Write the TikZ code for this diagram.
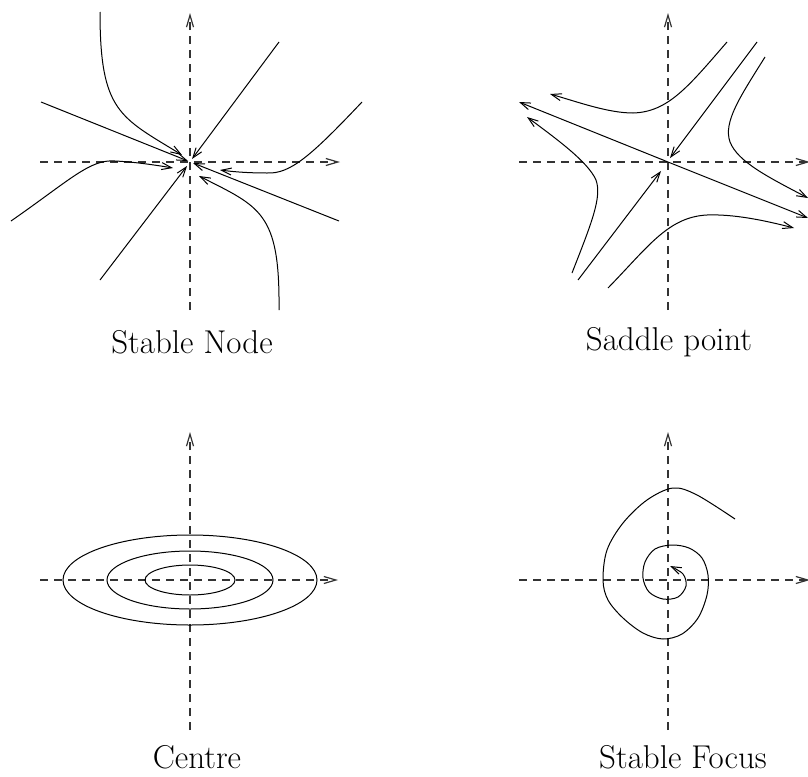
\documentclass[tikz,border=0pt]{standalone}
\usetikzlibrary{arrows.meta}

\begin{document}
\begin{tikzpicture}[
    x=0.5pt, y=-0.5pt,
    axis/.style={
        dashed, dash pattern=on 4pt off 3pt, line width=0.6pt, color=black!80,
        -{Straight Barb[length=6pt, width=3.5pt]}
    },
    traj/.style={
        line width=0.5pt, -{Straight Barb[length=5pt, width=3.5pt]}
    },
    orbit/.style={line width=0.5pt},
    caption/.style={anchor=base, font=\fontsize{16.5}{19}\selectfont}
]
\useasboundingbox (0,0) rectangle (808,776);

% --- stable node ---
\begin{scope}[shift={(190,162)}]
\coordinate (sn) at (0,0);
\draw[axis] (0,148) -- (0,-149);
\draw[axis] (-150,0) -- (150,0);
\draw[traj] (-149,-60) -- (-2,-1);
\draw[traj] (149,59) -- (3,1);
\draw[traj] (-90,118) -- (-3,4);
\draw[traj] (89,-120) -- (2,-3);
\draw[traj] (-90,-150) .. controls (-90,-50) and (-70,-45) .. (-8,-7);
\draw[traj] (89,148) .. controls (90,50) and (70,45) .. (9,14);
\draw[traj] (-179,59) .. controls (-120,18) and (-100,-3) .. (-75,-1)
    .. controls (-55,0) and (-35,3) .. (-17,6);
\draw[traj] (172,-60) .. controls (120,-5) and (100,12) .. (77,11)
    .. controls (60,11) and (45,10) .. (30,8);
\end{scope}
\node[caption] (lblnode) at (192,353) {Stable Node};

% --- saddle point ---
\begin{scope}[shift={(668,162)}]
\coordinate (sp) at (0,0);
\draw[axis] (0,148) -- (0,-149);
\draw[axis] (-149,0) -- (142,0);
\draw[traj] (sp) -- (-149,-60);
\draw[traj] (sp) -- (140,56);
\draw[traj] (89,-120) -- (2,-4);
\draw[traj] (-90,118) -- (-7,9);
\draw[traj] (59,-120) .. controls (20,-75) and (0,-50) .. (-35,-49)
    .. controls (-60,-49) and (-90,-60) .. (-118,-68);
\draw[traj] (-96,111) .. controls (-76,60) and (-66,35) .. (-72,18)
    .. controls (-80,0) and (-110,-22) .. (-141,-45);
\draw[traj] (97,-105) .. controls (72,-65) and (55,-40) .. (62,-20)
    .. controls (70,0) and (100,15) .. (140,36);
\draw[traj] (-60,126) .. controls (-20,85) and (0,55) .. (39,53)
    .. controls (65,52) and (95,58) .. (126,66);
\end{scope}
\node[caption] (lblsaddle) at (669,350) {Saddle point};

% --- centre ---
\begin{scope}[shift={(190,580)}]
\coordinate (ce) at (0,0);
\draw[axis] (0,150) -- (0,-148);
\draw[axis] (-150,0) -- (148,0);
\foreach \rx/\ry in {127/45, 83/29, 45/15}
    \draw[orbit] (ce) ellipse [x radius=\rx, y radius=\ry];
\end{scope}
\node[caption] (lblcentre) at (197,768) {Centre};

% --- stable focus ---
\begin{scope}[shift={(668,580)}]
\coordinate (sf) at (0,0);
\draw[axis] (0,150) -- (0,-148);
\draw[axis] (-149,0) -- (142,0);
\draw[traj] plot[smooth, tension=0.55] coordinates {
    (67,-61) (29,-85) (5,-92) (-21,-80) (-45,-57) (-61,-30) (-65,0)
    (-60,20) (-45,38) (-25,53) (-5,59) (14,54) (30,38) (39,15) (40,-5)
    (34,-22) (21,-32) (4,-35) (-13,-31) (-23,-18) (-25,-2) (-19,12)
    (-5,19) (10,17) (18,6) (15,-6) (2,-14)};
\end{scope}
\node[caption] (lblfocus) at (683,768) {Stable Focus};

\end{tikzpicture}
\end{document}
